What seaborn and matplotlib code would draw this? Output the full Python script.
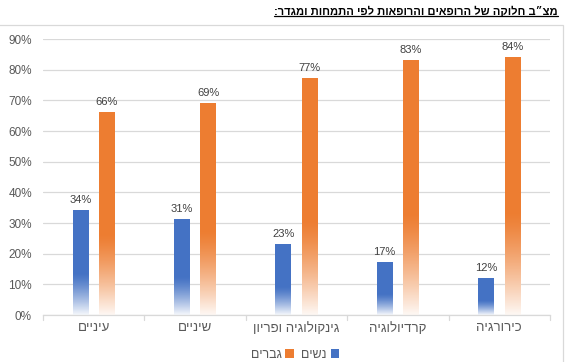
import numpy as np
import pandas as pd
import matplotlib
matplotlib.use("Agg")
import matplotlib.pyplot as plt
import seaborn as sns
from matplotlib.patches import Rectangle, Patch
from matplotlib.lines import Line2D
from matplotlib.colors import to_rgba

categories = ["עיניים", "שיניים", "גינקולוגיה ופריון", "קרדיולוגיה", "כירורגיה"]
women = [34, 31, 23, 17, 12]
men = [66, 69, 77, 83, 84]
series_names = ["נשים", "גברים"]
title = "מצ״ב חלוקה של הרופאים והרופאות לפי התמחות ומגדר:"
yticks = [0, 10, 20, 30, 40, 50, 60, 70, 80, 90]

def rtl(s):
    return s[::-1]

sns.set_theme(style="white")
plt.rcParams["font.family"] = ["Liberation Sans", "DejaVu Sans"]

BLUE = "#4472C4"
ORANGE = "#ED7D31"
GRID = "#D9D9D9"
TXT = "#595959"

df = pd.DataFrame({
    "cat": categories * 2,
    "val": women + men,
    "ser": [series_names[0]] * len(categories) + [series_names[1]] * len(categories),
})

fig = plt.figure(figsize=(5.7, 3.62), dpi=100)
ax = fig.add_axes([43 / 570, 1 - 315 / 362, (550 - 43) / 570, (315 - 39) / 362])

sns.barplot(data=df, x="cat", y="val", hue="ser", order=categories,
            hue_order=series_names, palette=[BLUE, ORANGE], saturation=1,
            width=0.52, gap=0.4, legend=False, ax=ax, zorder=2)

ax.set_xlim(-0.5, len(categories) - 0.5)
ax.set_ylim(0, 90)

# gradient fill for bars
for cont in ax.containers:
    for patch in cont:
        x0, w, h = patch.get_x(), patch.get_width(), patch.get_height()
        c = np.array(to_rgba(patch.get_facecolor()))
        patch.set_facecolor("none")
        patch.set_edgecolor("none")
        n = 600
        t = np.linspace(0, 1, n)
        mix = np.clip((t - 0.6) / 0.4, 0, 1) ** 1.3 * 0.95
        rgb = c[None, :3] * (1 - mix[:, None]) + np.ones(3)[None, :] * mix[:, None]
        img = np.concatenate([rgb, np.ones((n, 1))], axis=1)[:, None, :]
        ax.imshow(img, extent=[x0, x0 + w, 0, h], origin="upper",
                  aspect="auto", zorder=2, interpolation="nearest")

ax.set_xlim(-0.5, len(categories) - 0.5)
ax.set_ylim(0, 90)

# labels
for cont, vals in zip(ax.containers, [women, men]):
    ax.bar_label(cont, labels=[f"{v}%" for v in vals], padding=4,
                 fontsize=8, color="#404040")

ax.set_yticks(yticks)
ax.set_yticklabels([f"{v}%" for v in yticks], fontsize=8.5, color=TXT)
ax.set_xticks(range(len(categories)))
ax.set_xticklabels([rtl(c) for c in categories], fontsize=9.5, color=TXT)
ax.tick_params(axis="y", length=0, pad=8)
ax.tick_params(axis="x", length=0, pad=5)
ax.grid(axis="y", color=GRID, linewidth=0.9, zorder=0)
ax.set_axisbelow(True)
ax.set_xlabel("")
ax.set_ylabel("")
for s in ["top", "right", "left"]:
    ax.spines[s].set_visible(False)
ax.spines["bottom"].set_color(GRID)
ax.spines["bottom"].set_linewidth(0.9)
# category separator ticks
for b in np.arange(-0.5, len(categories), 1.0):
    ax.plot([b, b], [0, -1.6], color=GRID, lw=0.9, clip_on=False, zorder=1)

# legend
handles = [Patch(facecolor=ORANGE, edgecolor="none"), Patch(facecolor=BLUE, edgecolor="none")]
labels = [rtl(series_names[1]), rtl(series_names[0])]
fig.legend(handles, labels, loc="center", bbox_to_anchor=(295 / 570, 1 - 355 / 362),
           ncol=2, frameon=False, markerfirst=False, fontsize=9,
           handlelength=0.7, handleheight=0.7, handletextpad=0.3, columnspacing=0.6,
           labelcolor=TXT)

# chart border
fig.patches.append(Rectangle((-0.01, -0.01), 563 / 570 + 0.01, 1 - 25 / 362 + 0.01,
                             transform=fig.transFigure, fill=False,
                             edgecolor=GRID, linewidth=0.9))

# title (bold, underlined)
tt = fig.text(558 / 570, 1 - 11 / 362, rtl(title), ha="right", va="center",
              fontsize=8, fontweight="bold", color="black")
fig.canvas.draw()
bb = tt.get_window_extent().transformed(fig.transFigure.inverted())
fig.add_artist(Line2D([bb.x0, bb.x1], [bb.y0 + 0.002, bb.y0 + 0.002],
                      transform=fig.transFigure, color="black", lw=0.9))

fig.savefig("out.png", dpi=100)
